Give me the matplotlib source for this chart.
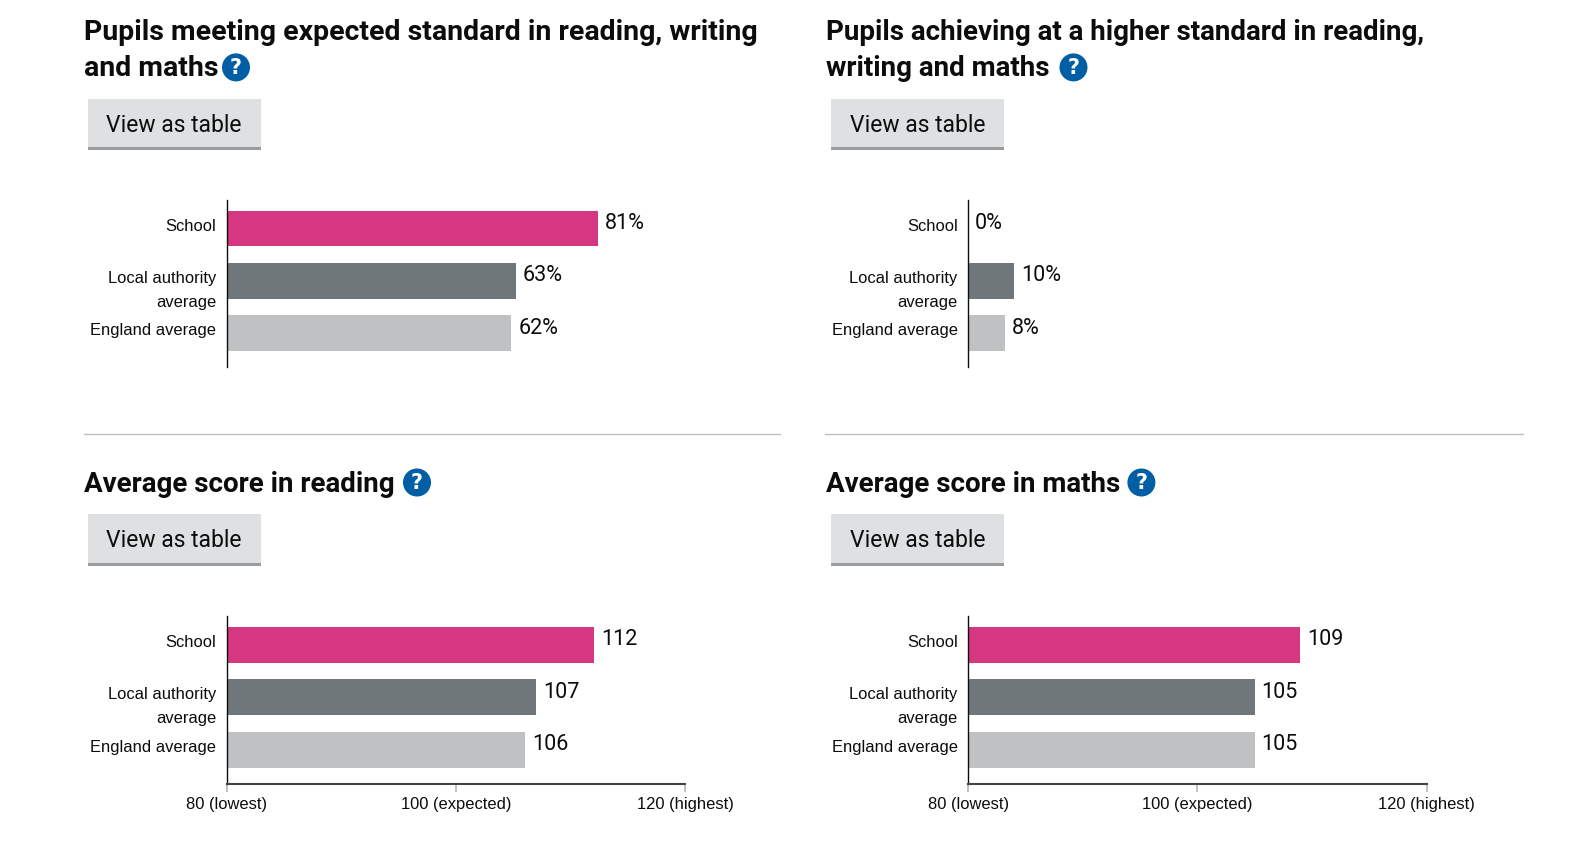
import matplotlib
matplotlib.use('Agg')
import matplotlib.pyplot as plt
import matplotlib.transforms as mtrans
from matplotlib.patches import Circle, Rectangle

W = 1590
H = 847

categories = ['School', 'Local authority\naverage', 'England average']
colours = ['#d53880', '#6f777b', '#bfc1c3']

expected_values = [81, 63, 62]
higher_values = [0, 10, 8]
reading_values = [112, 107, 106]
maths_values = [109, 105, 105]

score_ticks = [80, 100, 120]
score_tick_labels = ['80 (lowest)', '100 (expected)', '120 (highest)']

title_expected = ['Pupils meeting expected standard in reading, writing', 'and maths']
title_higher = ['Pupils achieving at a higher standard in reading,', 'writing and maths']
title_reading = ['Average score in reading']
title_maths = ['Average score in maths']
button_text = 'View as table'

TITLE_FONT = 'Roboto'
LABEL_FONT = 'Liberation Sans'
VALUE_FONT = 'Roboto'


def draw_panel(left, top, height, values, xlim, fmt, score_axis=False):
    ax = fig.add_axes([left / W, 1 - (top + height) / H, 458.5 / W, height / H])
    ax.patch.set_alpha(0)
    y = list(range(len(values)))
    ax.barh(y, values, height=0.685, color=colours)
    ax.set_xlim(*xlim)
    ax.set_ylim(2.644, -0.553)

    for s in ['top', 'right']:
        ax.spines[s].set_visible(False)
    ax.spines['left'].set_color('#0b0c0c')
    ax.spines['left'].set_linewidth(1.0)

    ax.set_yticks(y)
    ax.set_yticklabels(categories, fontfamily=LABEL_FONT, fontsize=11.9, color='#0b0c0c',
                       va='top', ha='right', linespacing=1.74)
    ax.tick_params(axis='y', length=0, pad=7.5)
    shift = mtrans.ScaledTranslation(0, 10 / 100, fig.dpi_scale_trans)
    for lab in ax.get_yticklabels():
        lab.set_transform(lab.get_transform() + shift)

    if score_axis:
        ax.spines['bottom'].set_color('#444444')
        ax.spines['bottom'].set_linewidth(1.5)
        ax.set_xticks(score_ticks)
        ax.set_xticklabels(score_tick_labels, fontfamily=LABEL_FONT, fontsize=11.9, color='#0b0c0c')
        ax.tick_params(axis='x', length=6, width=1.4, color='#bfc1c3', pad=3.7)
    else:
        ax.spines['bottom'].set_visible(False)
        ax.set_xticks([])

    for i, v in enumerate(values):
        ax.annotate(fmt % v, xy=(v, i), xytext=(7, 5), textcoords='offset pixels',
                    ha='left', va='center', fontfamily=VALUE_FONT, fontsize=15.5, color='#0b0c0c')
    return ax


def draw_button(x, y):
    bg.add_patch(Rectangle((x, y), 173, 51.5, facecolor='#dee0e2', edgecolor='none'))
    bg.add_patch(Rectangle((x, y + 48.5), 173, 3, facecolor='#9a9c9e', edgecolor='none'))
    bg.text(x + 86.5, y + 26.5, button_text, ha='center', va='center', fontfamily=TITLE_FONT,
            fontsize=16.5, color='#0b0c0c')


def draw_help(x, y):
    bg.add_patch(Circle((x, y), 14, facecolor='#005ea5', edgecolor='none'))
    bg.text(x, y + 0.5, '?', ha='center', va='center', fontfamily='DejaVu Sans',
            fontweight='bold', fontsize=15, color='white')


fig = plt.figure(figsize=(W / 100, H / 100), dpi=100, facecolor='white')

# everything round the charts is laid out in pixels on a full size axes
bg = fig.add_axes([0, 0, 1, 1])
bg.set_xlim(0, W)
bg.set_ylim(H, 0)
bg.axis('off')

for x, y, lines, size in [(84, 39.5, title_expected, 20.5), (825.8, 39.5, title_higher, 20.0),
                          (84, 492.5, title_reading, 20.0), (825.8, 492.5, title_maths, 20.0)]:
    for n, t in enumerate(lines):
        bg.text(x, y + 37 * n, t, ha='left', va='baseline', fontfamily=TITLE_FONT, fontweight='bold',
                fontsize=size, color='#0b0c0c')

for x, y in [(87.6, 98.8), (831.2, 98.8), (87.6, 514.4), (831.2, 514.4)]:
    draw_button(x, y)

for x, y in [(236, 67.4), (1073.5, 67.4), (417, 482.5), (1141.4, 482.5)]:
    draw_help(x, y)

bg.plot([84, 780], [434.2, 434.2], color='#bfc1c3', lw=1)
bg.plot([825.2, 1523], [434.2, 434.2], color='#bfc1c3', lw=1)

draw_panel(226.9, 199.6, 167.2, expected_values, (0, 100), '%d%%')
draw_panel(968, 199.6, 167.2, higher_values, (0, 100), '%d%%')
draw_panel(226.9, 615.5, 168.2, reading_values, (80, 120), '%d', score_axis=True)
draw_panel(968, 615.5, 168.2, maths_values, (80, 120), '%d', score_axis=True)

plt.savefig('out.png', dpi=100)
